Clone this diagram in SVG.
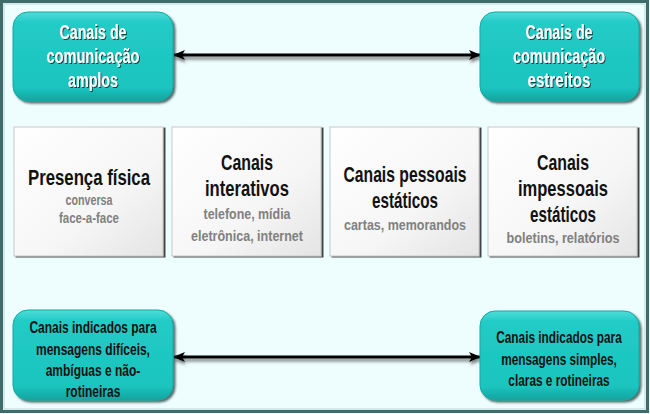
<svg xmlns="http://www.w3.org/2000/svg" width="650" height="414" viewBox="0 0 650 414">
<style>
.t{font-family:"Liberation Sans",Arial,sans-serif;font-weight:bold;text-anchor:middle}
.w{fill:#ffffff;font-size:20px}
.h{fill:#111111;font-size:22px}
.g{fill:#808080;font-size:15px}
.b{fill:#111111;font-size:16px}
.teal{fill:url(#tg);stroke:#14a9a4;stroke-width:1}
.grey{fill:url(#gg);stroke:#c8c8c8;stroke-width:1}
.conn{stroke:#000;stroke-width:3;fill:none;marker-start:url(#ah);marker-end:url(#ah)}
</style>
<defs>
<linearGradient id="tg" x1="0" y1="0" x2="0" y2="1">
<stop offset="0" stop-color="#4fdcd8"/>
<stop offset="0.12" stop-color="#22cbc6"/>
<stop offset="0.85" stop-color="#1cc4bf"/>
<stop offset="1" stop-color="#11a39f"/>
</linearGradient>
<linearGradient id="gg" x1="0" y1="0" x2="1" y2="1">
<stop offset="0" stop-color="#ffffff"/>
<stop offset="0.6" stop-color="#f6f6f6"/>
<stop offset="1" stop-color="#e4e4e4"/>
</linearGradient>
<filter id="sh" x="-10%" y="-10%" width="125%" height="125%">
<feDropShadow dx="2" dy="2" stdDeviation="1.2" flood-color="#1d3a3a" flood-opacity="0.75"/>
</filter>
<filter id="gsh" x="-10%" y="-10%" width="125%" height="125%">
<feDropShadow dx="2" dy="1" stdDeviation="0.6" flood-color="#333" flood-opacity="0.9"/>
</filter>
<filter id="ts" x="-10%" y="-20%" width="130%" height="150%">
<feDropShadow dx="1" dy="1" stdDeviation="0.4" flood-color="#0a3535" flood-opacity="0.9"/>
</filter>
<filter id="as" x="-5%" y="-100%" width="110%" height="400%">
<feDropShadow dx="1" dy="3" stdDeviation="1.5" flood-color="#333" flood-opacity="0.6"/>
</filter>
<marker id="ah" viewBox="0 0 12 10" refX="11" refY="5" markerWidth="12" markerHeight="10" markerUnits="userSpaceOnUse" orient="auto-start-reverse">
<path d="M0,0 L12,5 L0,10 L3,5 Z" fill="#000"/>
</marker>
</defs>
<rect x="0" y="0" width="650" height="414" fill="#eefdfd"/>
<rect x="1.5" y="1.5" width="646" height="410" fill="none" stroke="#3f6b6b" stroke-width="3"/>
<rect x="4" y="4" width="641" height="405" fill="none" stroke="#b9d6d6" stroke-width="1"/>

<g id="connectors" filter="url(#as)">
<path class="conn" d="M174,55 L480,55"/>
<path class="conn" d="M174,357 L480,357"/>
</g>

<g id="amplos">
<rect class="teal" x="13" y="12" width="160" height="89" rx="15" filter="url(#sh)"/>
<g filter="url(#ts)">
<text class="t w" x="93" y="39" textLength="67" lengthAdjust="spacingAndGlyphs">Canais de</text>
<text class="t w" x="93" y="63" textLength="93" lengthAdjust="spacingAndGlyphs">comunicação</text>
<text class="t w" x="93" y="87" textLength="50" lengthAdjust="spacingAndGlyphs">amplos</text>
</g>
</g>

<g id="estreitos">
<rect class="teal" x="480" y="12" width="159" height="89" rx="15" filter="url(#sh)"/>
<g filter="url(#ts)">
<text class="t w" x="559" y="39" textLength="67" lengthAdjust="spacingAndGlyphs">Canais de</text>
<text class="t w" x="559" y="63" textLength="92" lengthAdjust="spacingAndGlyphs">comunicação</text>
<text class="t w" x="559" y="87" textLength="63" lengthAdjust="spacingAndGlyphs">estreitos</text>
</g>
</g>

<g id="presenca">
<rect class="grey" x="14" y="127" width="149" height="129" filter="url(#gsh)"/>
<text class="t h" x="89" y="185" textLength="122" lengthAdjust="spacingAndGlyphs">Presença física</text>
<text class="t g" x="89" y="205" textLength="47" lengthAdjust="spacingAndGlyphs">conversa</text>
<text class="t g" x="89" y="223" textLength="60" lengthAdjust="spacingAndGlyphs">face-a-face</text>
</g>

<g id="interativos">
<rect class="grey" x="172" y="127" width="149" height="129" filter="url(#gsh)"/>
<text class="t h" x="247" y="170" textLength="52" lengthAdjust="spacingAndGlyphs">Canais</text>
<text class="t h" x="247" y="196" textLength="84" lengthAdjust="spacingAndGlyphs">interativos</text>
<text class="t g" x="247" y="219" textLength="87" lengthAdjust="spacingAndGlyphs">telefone, mídia</text>
<text class="t g" x="247" y="241" textLength="112" lengthAdjust="spacingAndGlyphs">eletrônica, internet</text>
</g>

<g id="pessoais">
<rect class="grey" x="330" y="127" width="149" height="129" filter="url(#gsh)"/>
<text class="t h" x="405" y="182" textLength="123" lengthAdjust="spacingAndGlyphs">Canais pessoais</text>
<text class="t h" x="405" y="208" textLength="66" lengthAdjust="spacingAndGlyphs">estáticos</text>
<text class="t g" x="405" y="230" textLength="122" lengthAdjust="spacingAndGlyphs">cartas, memorandos</text>
</g>

<g id="impessoais">
<rect class="grey" x="488" y="127" width="149" height="129" filter="url(#gsh)"/>
<text class="t h" x="563" y="170" textLength="52" lengthAdjust="spacingAndGlyphs">Canais</text>
<text class="t h" x="563" y="196" textLength="90" lengthAdjust="spacingAndGlyphs">impessoais</text>
<text class="t h" x="563" y="222" textLength="66" lengthAdjust="spacingAndGlyphs">estáticos</text>
<text class="t g" x="563" y="243" textLength="113" lengthAdjust="spacingAndGlyphs">boletins, relatórios</text>
</g>

<g id="dificeis">
<rect class="teal" x="13" y="310" width="160" height="90" rx="15" filter="url(#sh)"/>
<g transform="translate(93,0) scale(0.75,1)">
<text class="t b" x="0" y="333">Canais indicados para</text>
<text class="t b" x="0" y="355">mensagens difíceis,</text>
<text class="t b" x="0" y="376">ambíguas e não-</text>
<text class="t b" x="0" y="397">rotineiras</text>
</g>
</g>

<g id="simples">
<rect class="teal" x="480" y="311" width="159" height="89" rx="15" filter="url(#sh)"/>
<g transform="translate(559,0) scale(0.74,1)">
<text class="t b" x="0" y="343">Canais indicados para</text>
<text class="t b" x="0" y="365">mensagens simples,</text>
<text class="t b" x="0" y="386">claras e rotineiras</text>
</g>
</g>
</svg>
